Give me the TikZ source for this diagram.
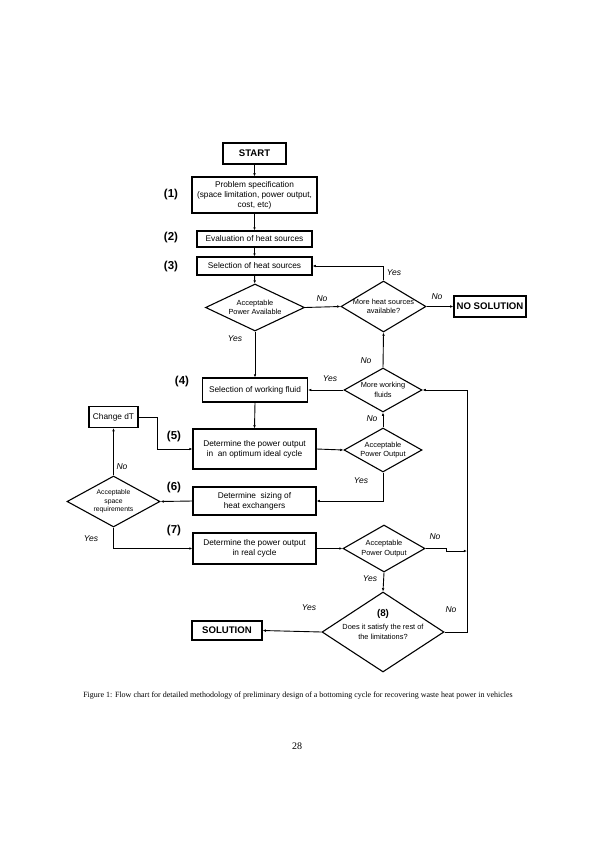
\documentclass[tikz,border=0pt]{standalone}
\usepackage{fontspec}
\setmainfont{Liberation Sans}
\newfontfamily\serifcap{Liberation Serif}
\usetikzlibrary{shapes.geometric,arrows.meta}
\begin{document}
\begin{tikzpicture}[x=1pt,y=-1pt,
  box/.style={draw,line width=1.1pt,inner sep=0pt,align=center,font=\fontsize{8.3}{10}\selectfont},
  term/.style={draw,line width=1.3pt,inner sep=0pt,font=\bfseries\fontsize{9.6}{11}\selectfont},
  dia/.style={draw,diamond,line width=1.1pt,inner sep=0pt},
  dtxt/.style={align=center,font=\fontsize{7.4}{9.5}\selectfont,inner sep=0pt},
  stxt/.style={align=center,font=\fontsize{6.8}{8.5}\selectfont,inner sep=0pt},
  num/.style={font=\bfseries\fontsize{11.5}{13}\selectfont,inner sep=0pt},
  yn/.style={font=\itshape\fontsize{8.5}{10}\selectfont,inner sep=0pt},
  conn/.style={line width=0.9pt},
  arr/.style={conn,-{Latex[length=3.2pt,width=2.6pt]}},
]
\useasboundingbox[fill=white] (0,0) rectangle (595,842);

% terminals and boxes
\node[term,minimum width=63pt,minimum height=21pt] (start) at (254.5,153.5) {START};
\node[box,minimum width=125pt,minimum height=36pt] (b1) at (254.5,195) {Problem specification\\(space limitation, power output,\\cost, etc)};
\node[box,minimum width=115pt,minimum height=16pt] (b2) at (254.5,239) {Evaluation of heat sources};
\node[box,minimum width=115pt,minimum height=18pt] (b3) at (254.5,266) {Selection of heat sources};
\node[dia,minimum width=99pt,minimum height=47pt,label={[dtxt]center:Acceptable\\Power Available}] (d1) at (255,307.5) {};
\node[dia,minimum width=85pt,minimum height=51pt,label={[dtxt]center:More heat sources\\available?}] (d2) at (383.5,306.5) {};
\node[term,minimum width=72pt,minimum height=21pt] (nosol) at (490,306.5) {NO SOLUTION};
\node[box,minimum width=105pt,minimum height=24pt] (b4) at (255,390) {Selection of working fluid};
\node[dia,minimum width=78pt,minimum height=44pt,label={[dtxt]center:More working\\fluids}] (d3) at (383,390) {};
\node[box,minimum width=49pt,minimum height=21pt] (dT) at (113.5,417) {Change dT};
\node[box,minimum width=123pt,minimum height=40pt] (b5) at (254.5,449) {Determine the power output\\in\ \ an optimum ideal cycle};
\node[dia,minimum width=78pt,minimum height=44pt,label={[dtxt]center:Acceptable\\Power Output}] (d4) at (383,450) {};
\node[dia,minimum width=93pt,minimum height=51pt,label={[stxt]center:Acceptable\\space\\requirements}] (d5) at (113.5,501.5) {};
\node[box,minimum width=123pt,minimum height=28pt] (b6) at (254.5,501) {Determine\ \ sizing of\\heat exchangers};
\node[box,minimum width=123pt,minimum height=31pt] (b7) at (254.5,548.5) {Determine the power output\\in real cycle};
\node[dia,minimum width=82pt,minimum height=47pt,label={[dtxt]center:Acceptable\\Power Output}] (d6) at (384,548.5) {};
\node[dia,minimum width=122pt,minimum height=80pt,label={[dtxt]center:Does it satisfy the rest of\\the limitations?}] (d7) at (383,632) {};
\node[num,font=\bfseries\fontsize{9.8}{11}\selectfont] (n8) at (383,614) {(8)};
\node[term,minimum width=70pt,minimum height=19pt] (sol) at (227,630.5) {SOLUTION};

% step numbers
\node[num] (n1) at (171,195) {(1)};
\node[num] (n2) at (171,238) {(2)};
\node[num] (n3) at (171,267) {(3)};
\node[num] (n4) at (182,382) {(4)};
\node[num] (n5) at (174,437) {(5)};
\node[num] (n6) at (174,488) {(6)};
\node[num] (n7) at (174,531) {(7)};

% helper coordinates
\coordinate (j) at (467,551);
\coordinate (rb) at (467,632);

% connectors
\draw[arr] (start) -- (b1);
\draw[arr] (b1) -- (b2);
\draw[arr] (b2) -- (b3);
\draw[arr] (b3) -- (d1);
\draw[arr] (d1.east) -- (d2.west);
\draw[arr] (d2.north) |- (b3.east);
\draw[arr] (d2.east) -- (nosol.west);
\draw[arr] (d1.south) -- (b4.north);
\draw[arr] (d3.north) -- (d2.south);
\draw[arr] (d3.west) -- (b4.east);
\draw[arr] (b4.south) -- (b5.north);
\draw[arr] (dT.east) -- ++(19,0) |- (b5.west);
\draw[arr] (b5.east) -- (d4.west);
\draw[arr] (d4.north) -- (d3.south);
\draw[arr] (d4.south) |- (b6.east);
\draw[arr] (b6.west) -- (d5.east);
\draw[arr] (d5.north) -- (dT.south);
\draw[arr] (d5.south) |- (b7.west);
\draw[arr] (b7.east) -- (d6.west);
\draw[arr] (d6.east) -- ++(21,0) -- ++(0,2.5) -- (j);
\draw[arr] (d6.south) -- (d7.north);
\draw[arr] (d7.west) -- (sol.east);
\draw[arr] (d7.east) -- (rb) |- (d3.east);

% yes / no labels
\node[yn] (l1) at (322,299) {No};
\node[yn] (l2) at (394,273) {Yes};
\node[yn] (l3) at (437,297) {No};
\node[yn] (l4) at (235,339) {Yes};
\node[yn] (l5) at (366,361) {No};
\node[yn] (l6) at (330,379) {Yes};
\node[yn] (l7) at (372,419) {No};
\node[yn] (l8) at (361,481) {Yes};
\node[yn] (l9) at (122,467) {No};
\node[yn] (l10) at (91,539) {Yes};
\node[yn] (l11) at (435,537) {No};
\node[yn] (l12) at (370,579) {Yes};
\node[yn] (l13) at (309,608) {Yes};
\node[yn] (l14) at (451,610) {No};

% caption and page number
\node[font=\serifcap\fontsize{8}{9.5}\selectfont,inner sep=0pt] (cap) at (298,696) {Figure 1: Flow chart for detailed methodology of preliminary design of a bottoming cycle for recovering waste heat power in vehicles};
\node[font=\serifcap\fontsize{10}{12}\selectfont,inner sep=0pt] (pg) at (297,746) {28};
\end{tikzpicture}
\end{document}
